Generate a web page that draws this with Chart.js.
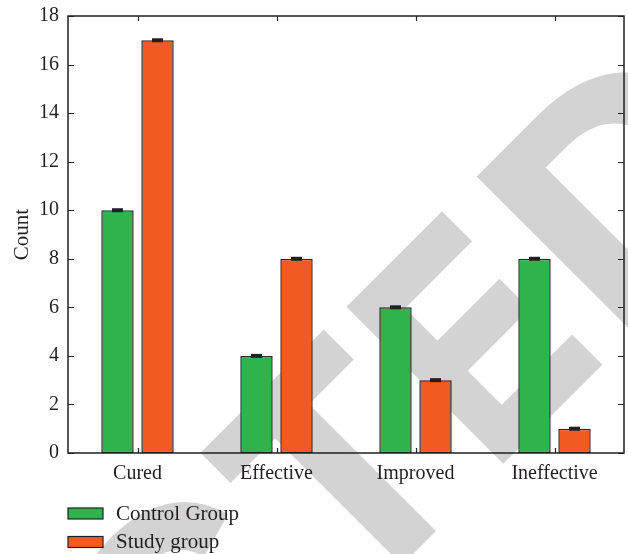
<!DOCTYPE html>
<html>
<head>
<meta charset="utf-8">
<script src="https://cdn.jsdelivr.net/npm/chart.js@4.4.1/dist/chart.umd.min.js"></script>
<style>
  html, body { margin: 0; padding: 0; background: #fff; }
  #wrap { width: 628px; height: 554px; }
</style>
</head>
<body>
<div id="wrap"><canvas id="chart" width="628" height="554"></canvas></div>
<script>
const categories = ["Cured", "Effective", "Improved", "Ineffective"];
const seriesNames = ["Control Group", "Study group"];
const controlGroup = [10, 4, 6, 8];
const studyGroup = [17, 8, 3, 1];
const yTicks = [0, 2, 4, 6, 8, 10, 12, 14, 16, 18];

const INK = "#231f20";
const GREEN = "#2fb34c";
const ORANGE = "#f15a22";
const SERIF = '"Liberation Serif", "DejaVu Serif", serif';

// grey "RETRACTED" stamp behind the plot (only C, T, E, D fall inside the page)
const watermark = {
  id: "watermark",
  beforeDraw: (chart) => {
    const ctx = chart.ctx;
    const letters = [
      { ch: "C", right: -198 },
      { ch: "T", left: -182, right: -1 },
      { ch: "E", left: 26, right: 172 },
      { ch: "D", left: 211, right: 422 },
    ];
    const stroke = 8;
    ctx.save();
    ctx.translate(480.7, 480.7);
    ctx.rotate(-Math.PI / 4);
    ctx.font = 'bold 311px "Liberation Sans", Arial, sans-serif';
    ctx.fillStyle = "#d3d3d3";
    ctx.strokeStyle = "#d3d3d3";
    ctx.lineWidth = stroke;
    ctx.lineJoin = "miter";
    ctx.textBaseline = "alphabetic";
    ctx.textAlign = "left";
    letters.forEach((l) => {
      const m = ctx.measureText(l.ch);
      const gl = m.actualBoundingBoxLeft;
      const gw = gl + m.actualBoundingBoxRight;
      ctx.save();
      if (l.left !== undefined && l.right !== undefined) {
        const sx = (l.right - l.left - stroke) / gw;
        ctx.translate(l.left + stroke / 2, 0);
        ctx.scale(sx, 1);
      } else if (l.left !== undefined) {
        ctx.translate(l.left + stroke / 2, 0);
      } else {
        ctx.translate(l.right - stroke / 2 - gw, 0);
      }
      ctx.fillText(l.ch, gl, 0);
      ctx.strokeText(l.ch, gl, 0);
      ctx.restore();
    });
    ctx.restore();
  },
};

// small black caps on top of every bar
const errorCaps = {
  id: "errorCaps",
  afterDatasetsDraw: (chart) => {
    const ctx = chart.ctx;
    ctx.save();
    ctx.fillStyle = INK;
    chart.data.datasets.forEach((ds, i) => {
      chart.getDatasetMeta(i).data.forEach((bar) => {
        ctx.fillRect(bar.x - 5.5, bar.y - 2, 11, 4);
      });
    });
    ctx.restore();
  },
};

// closed frame with inward ticks, plus the legend under the axis
const frameAndLegend = {
  id: "frameAndLegend",
  afterDraw: (chart) => {
    const ctx = chart.ctx;
    const a = chart.chartArea;
    const xs = chart.scales.x;
    const ys = chart.scales.y;
    ctx.save();
    ctx.strokeStyle = INK;
    ctx.lineWidth = 1.5;
    ctx.strokeRect(a.left, a.top, a.right - a.left, a.bottom - a.top);
    ctx.lineWidth = 1.2;
    ctx.beginPath();
    yTicks.forEach((v) => {
      const py = Math.round(ys.getPixelForValue(v)) + 0.5;
      ctx.moveTo(a.left, py); ctx.lineTo(a.left + 6, py);
      ctx.moveTo(a.right, py); ctx.lineTo(a.right - 6, py);
    });
    categories.forEach((c, i) => {
      const px = Math.round(xs.getPixelForValue(i)) + 0.5;
      ctx.moveTo(px, a.bottom); ctx.lineTo(px, a.bottom - 5);
      ctx.moveTo(px, a.top); ctx.lineTo(px, a.top + 5);
    });
    ctx.stroke();

    ctx.font = "21px " + SERIF;
    ctx.textBaseline = "middle";
    ctx.textAlign = "left";
    chart.data.datasets.forEach((ds, i) => {
      const by = 508 + i * 28.5;
      ctx.fillStyle = ds.backgroundColor;
      ctx.fillRect(68, by, 35, 11);
      ctx.strokeStyle = INK;
      ctx.lineWidth = 1.2;
      ctx.strokeRect(68, by, 35, 11);
      ctx.fillStyle = INK;
      ctx.fillText(ds.label, 116, by + 6);
    });
    ctx.restore();
  },
};

new Chart(document.getElementById("chart"), {
  type: "bar",
  data: {
    labels: categories,
    datasets: [
      {
        label: seriesNames[0],
        data: controlGroup,
        backgroundColor: GREEN,
        borderColor: "#2b2b2b",
        borderWidth: 1.5,
        borderSkipped: false,
        categoryPercentage: 0.576,
        barPercentage: 0.81,
      },
      {
        label: seriesNames[1],
        data: studyGroup,
        backgroundColor: ORANGE,
        borderColor: "#2b2b2b",
        borderWidth: 1.5,
        borderSkipped: false,
        categoryPercentage: 0.576,
        barPercentage: 0.81,
      },
    ],
  },
  options: {
    responsive: false,
    animation: false,
    devicePixelRatio: 1,
    layout: { padding: { left: 0, right: 4, top: 16, bottom: 0 } },
    plugins: {
      legend: { display: false },
      tooltip: { enabled: false },
    },
    scales: {
      x: {
        grid: { display: false, drawTicks: false },
        border: { display: false },
        ticks: { color: INK, font: { family: SERIF, size: 20 }, padding: 9 },
        afterFit: (s) => { s.height = 101; s.paddingLeft = 0; s.paddingRight = 0; },
      },
      y: {
        min: 0,
        max: 18,
        grid: { display: false, drawTicks: false },
        border: { display: false },
        ticks: {
          stepSize: 2,
          color: INK,
          font: { family: SERIF, size: 20 },
          padding: 9,
        },
        afterBuildTicks: (s) => { s.ticks = yTicks.map((v) => ({ value: v })); },
        title: {
          display: true,
          text: "Count",
          color: INK,
          font: { family: SERIF, size: 21 },
          padding: { top: 10, bottom: 0 },
        },
        afterFit: (s) => { s.width = 68; s.paddingTop = 0; s.paddingBottom = 0; },
      },
    },
  },
  plugins: [watermark, errorCaps, frameAndLegend],
});
</script>
</body>
</html>
